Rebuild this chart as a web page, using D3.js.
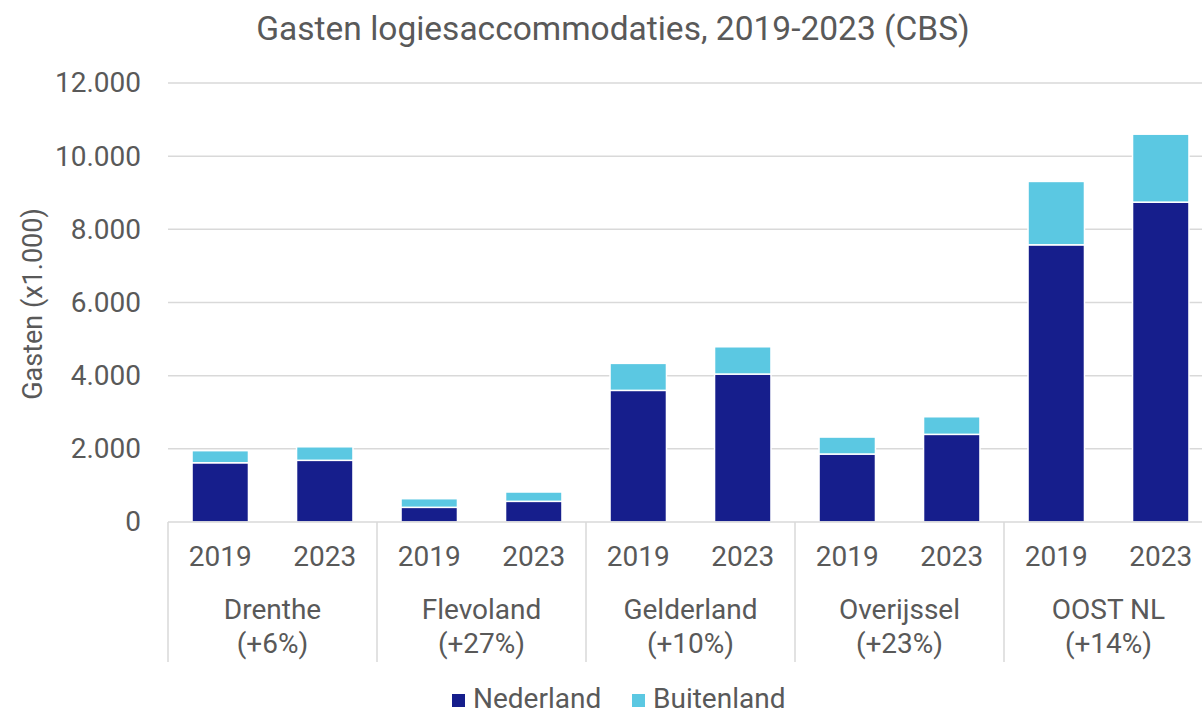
<!DOCTYPE html>
<html><head><meta charset="utf-8">
<script src="https://cdn.jsdelivr.net/npm/d3@7"></script>
<style>body{margin:0;background:#fff}svg{display:block;font-family:Roboto,"Liberation Sans",sans-serif}</style>
</head><body>
<svg id="c" width="1202" height="709"></svg>
<script>
const regions = ["Drenthe","Flevoland","Gelderland","Overijssel","OOST NL"];
const changes = ["(+6%)","(+27%)","(+10%)","(+23%)","(+14%)"];
const years = ["2019","2023"];
const nederland = [[1620,1686],[401,565],[3598,4044],[1858,2396],[7577,8743]];
const buitenland = [[330,370],[236,255],[738,746],[464,481],[1732,1858]];
const yTicks = [0,2000,4000,6000,8000,10000,12000];
const seriesNames = ["Nederland","Buitenland"];
const colors = ["#161e8c","#5bc8e2"];

(function(){
const svg = d3.select("#c");
const W = 1202, pLeft = 168, pRight = 1213, pTop = 83, pBottom = 522;
const textColor = "#595959", gridColor = "#d9d9d9";
const fs = 28;

const y = d3.scaleLinear().domain([0,12000]).range([pBottom, pTop]);
const x0 = d3.scaleBand().domain(regions).range([pLeft, pRight]).paddingInner(0).paddingOuter(0);
const x1 = d3.scaleBand().domain(years).range([0, x0.bandwidth()]).paddingInner(0.46).paddingOuter(0.23);
const fmt = v => d3.format(",")(v).replace(/,/g, ".");

// gridlines
svg.append("g").selectAll("line").data(yTicks.filter(d=>d>0)).join("line")
  .attr("x1", pLeft).attr("x2", W).attr("y1", d=>y(d)).attr("y2", d=>y(d))
  .attr("stroke", gridColor).attr("stroke-width", 1.5);

// y axis labels
const yAxis = svg.append("g").attr("transform", `translate(${pLeft},0)`)
  .call(d3.axisLeft(y).tickValues(yTicks).tickFormat(fmt).tickSize(0).tickPadding(27));
yAxis.select(".domain").remove();
yAxis.selectAll("text").attr("fill", textColor).attr("font-size", fs).attr("font-family","Roboto");

// bars
regions.forEach((r, i) => {
  const g = svg.append("g").attr("transform", `translate(${x0(r)},0)`);
  years.forEach((yr, j) => {
    const nl = nederland[i][j], bl = buitenland[i][j];
    g.append("rect").attr("x", x1(yr)).attr("width", x1.bandwidth())
      .attr("y", y(nl)).attr("height", y(0)-y(nl))
      .attr("fill", colors[0]).attr("stroke", "#fff").attr("stroke-width", 1.5);
    g.append("rect").attr("x", x1(yr)).attr("width", x1.bandwidth())
      .attr("y", y(nl+bl)).attr("height", y(nl)-y(nl+bl))
      .attr("fill", colors[1]).attr("stroke", "#fff").attr("stroke-width", 1.5);
  });
});

// x axis line
svg.append("line").attr("x1", pLeft).attr("x2", W).attr("y1", pBottom).attr("y2", pBottom)
  .attr("stroke", gridColor).attr("stroke-width", 1.5);
// separators
svg.append("g").selectAll("line").data(regions).join("line")
  .attr("x1", d=>x0(d)).attr("x2", d=>x0(d)).attr("y1", pBottom).attr("y2", 662)
  .attr("stroke", gridColor).attr("stroke-width", 1.5);

// year labels
regions.forEach(r => {
  svg.append("g").selectAll("text").data(years).join("text")
    .attr("x", d => x0(r) + x1(d) + x1.bandwidth()/2).attr("y", 566)
    .attr("text-anchor","middle").attr("fill", textColor).attr("font-size", fs).text(d=>d);
});
// region labels
svg.append("g").selectAll("text").data(regions).join("text")
  .attr("x", d => x0(d) + x0.bandwidth()/2).attr("y", 619)
  .attr("text-anchor","middle").attr("fill", textColor).attr("font-size", fs).text(d=>d);
svg.append("g").selectAll("text").data(changes).join("text")
  .attr("x", (d,i) => x0(regions[i]) + x0.bandwidth()/2).attr("y", 653)
  .attr("text-anchor","middle").attr("fill", textColor).attr("font-size", fs).text(d=>d);

// title
svg.append("text").attr("x", 613).attr("y", 40).attr("text-anchor","middle")
  .attr("fill", textColor).attr("font-size", 33.5).text("Gasten logiesaccommodaties, 2019-2023 (CBS)");
// y axis title
svg.append("text").attr("transform", "translate(42,304) rotate(-90)").attr("text-anchor","middle")
  .attr("fill", textColor).attr("font-size", 27).text("Gasten (x1.000)");

// legend
const legX = [452, 632];
const leg = svg.append("g").selectAll("g").data(seriesNames).join("g")
  .attr("transform", (d,i)=>`translate(${legX[i]},0)`);
leg.append("rect").attr("x",0).attr("y",694).attr("width",13).attr("height",13).attr("fill",(d,i)=>colors[i]);
leg.append("text").attr("x",21).attr("y",708).attr("fill",textColor).attr("font-size",fs).text(d=>d);
})();
</script>
</body></html>
